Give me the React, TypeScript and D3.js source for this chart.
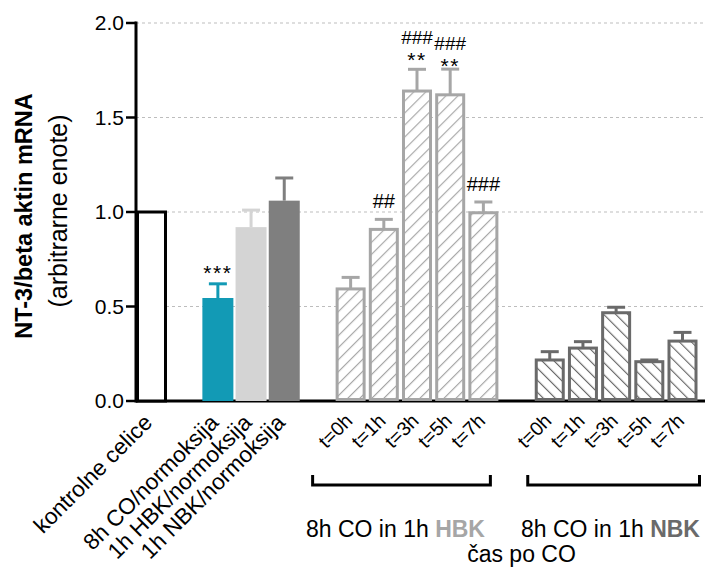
import * as d3 from "d3";

const controlLabels = ["kontrolne celice", "8h CO/normoksija", "1h HBK/normoksija", "1h NBK/normoksija"];
const controlValues = [1.0, 0.545, 0.92, 1.06];
const controlErrors = [0, 0.075, 0.09, 0.12];
const controlMarks = [[], ["***"], [], []];

const timeLabels = ["t=0h", "t=1h", "t=3h", "t=5h", "t=7h"];
const hbkValues = [0.593, 0.908, 1.64, 1.62, 0.996];
const hbkErrors = [0.061, 0.053, 0.115, 0.136, 0.057];
const hbkMarks = [[], ["##"], ["**", "###"], ["**", "###"], ["###"]];
const nbkValues = [0.217, 0.28, 0.467, 0.208, 0.317];
const nbkErrors = [0.044, 0.034, 0.029, 0.009, 0.046];

const yTicks = [0, 0.5, 1.0, 1.5, 2.0];

const FONT = "'Liberation Sans', Arial, Helvetica, sans-serif";
const TEAL = "#129ab5";
const LIGHT = "#d4d4d4";
const DARK = "#7f7f7f";
const HBK = "#a6a6a6";
const NBK = "#6a6a6a";

export default function App() {
  const width = 707;
  const height = 567;
  const x = d3.scaleLinear().domain([0, 16]).range([151.5, 682.5]);
  const y = d3.scaleLinear().domain([0, 2]).range([401, 23]);
  const axisX = 136;
  const right = 705;
  const barW = 31;
  const capW = 18;

  const controlSlots = [0, 2, 3, 4];
  const controlFill = ["#fff", TEAL, LIGHT, DARK];
  const hbkSlots = timeLabels.map((_, i) => 6 + i);
  const nbkSlots = timeLabels.map((_, i) => 12 + i);

  const errorBar = (cx: number, v: number, e: number, color: string, key: string) =>
    e > 0 ? (
      <g key={key} stroke={color} strokeWidth={3}>
        <line x1={cx} x2={cx} y1={y(v)} y2={y(v + e)} />
        <line x1={cx - capW / 2} x2={cx + capW / 2} y1={y(v + e)} y2={y(v + e)} />
      </g>
    ) : null;

  return (
    <svg width={width} height={height} style={{ position: "absolute", left: 0, top: 0, fontFamily: FONT }}>
      <defs>
        <pattern id="hatchHBK" patternUnits="userSpaceOnUse" width={8.5} height={8.5} patternTransform="rotate(45)">
          <rect width={8.5} height={8.5} fill="#fff" />
          <line x1={0} y1={0} x2={0} y2={8.5} stroke={HBK} strokeWidth={2.3} />
        </pattern>
        <pattern id="hatchNBK" patternUnits="userSpaceOnUse" width={8.5} height={8.5} patternTransform="rotate(-45)">
          <rect width={8.5} height={8.5} fill="#fff" />
          <line x1={0} y1={0} x2={0} y2={8.5} stroke={NBK} strokeWidth={2.3} />
        </pattern>
      </defs>

      {/* gridlines */}
      {yTicks.slice(1).map((t) => (
        <line key={t} x1={axisX} x2={right} y1={y(t)} y2={y(t)} stroke="#bdbdbd" strokeWidth={1} strokeDasharray="3,3" />
      ))}

      {/* x baseline */}
      <line x1={axisX} x2={right} y1={y(0)} y2={y(0)} stroke="#000" strokeWidth={3} />

      {/* control bars */}
      {controlValues.map((v, i) => {
        const cx = x(controlSlots[i]);
        return i === 0 ? (
          <rect key={i} x={cx - 14} y={y(v)} width={28} height={y(0) - y(v)} fill="#fff" stroke="#000" strokeWidth={3} />
        ) : (
          <rect key={i} x={cx - barW / 2} y={y(v)} width={barW} height={y(0) - y(v)} fill={controlFill[i]} />
        );
      })}
      {controlValues.map((v, i) => errorBar(x(controlSlots[i]), v, controlErrors[i], controlFill[i], `ce${i}`))}

      {/* HBK hatched bars */}
      {hbkValues.map((v, i) => {
        const cx = x(hbkSlots[i]);
        return (
          <rect key={`h${i}`} x={cx - 13.5} y={y(v)} width={27} height={y(0) - y(v) - 1.5} fill="url(#hatchHBK)" stroke={HBK} strokeWidth={3} />
        );
      })}
      {hbkValues.map((v, i) => errorBar(x(hbkSlots[i]), v, hbkErrors[i], HBK, `he${i}`))}

      {/* NBK hatched bars */}
      {nbkValues.map((v, i) => {
        const cx = x(nbkSlots[i]);
        return (
          <rect key={`n${i}`} x={cx - 13.5} y={y(v)} width={27} height={y(0) - y(v) - 1.5} fill="url(#hatchNBK)" stroke={NBK} strokeWidth={3} />
        );
      })}
      {nbkValues.map((v, i) => errorBar(x(nbkSlots[i]), v, nbkErrors[i], NBK, `ne${i}`))}

      {/* significance marks */}
      {controlMarks.map((m, i) =>
        m.map((s) => (
          <text key={`cm${i}`} x={x(controlSlots[i])} y={y(controlValues[i] + controlErrors[i]) - 4} textAnchor="middle" fontSize={21} letterSpacing={1.5}>
            {s}
          </text>
        ))
      )}
      {hbkMarks.map((m, i) => {
        const cx = x(hbkSlots[i]);
        const top = y(hbkValues[i] + hbkErrors[i]);
        // stagger stacked labels when the neighbour is stacked too
        const shift = m.length > 1 && i > 0 && hbkMarks[i - 1].length > 1 ? 6 : 0;
        return m.map((s, j) => {
          const isStar = s.startsWith("*");
          const yy = m.length === 1 ? top - 11 : (isStar ? top - 2 : top - 25) + shift;
          return (
            <text key={`hm${i}${j}`} x={cx} y={yy} textAnchor="middle" fontSize={isStar ? 21 : m.length > 1 ? 19 : 20} letterSpacing={isStar ? 1.5 : 0}>
              {s}
            </text>
          );
        });
      })}

      {/* y axis */}
      <line x1={axisX} x2={axisX} y1={y(2) - 1.5} y2={y(0) + 1.5} stroke="#000" strokeWidth={3} />
      {yTicks.map((t) => (
        <g key={`yt${t}`}>
          <line x1={axisX - 10} x2={axisX} y1={y(t)} y2={y(t)} stroke="#000" strokeWidth={2.5} />
          <text x={axisX - 12} y={y(t) + 7} textAnchor="end" fontSize={21}>
            {t.toFixed(1)}
          </text>
        </g>
      ))}

      {/* y axis title */}
      <text transform={`translate(32, ${216}) rotate(-90)`} textAnchor="middle" fontSize={23.5} fontWeight="bold">
        NT-3/beta aktin mRNA
      </text>
      <text transform={`translate(67, ${211}) rotate(-90)`} textAnchor="middle" fontSize={25}>
        (arbitrarne enote)
      </text>

      {/* category labels */}
      {controlLabels.map((l, i) => (
        <text key={`cl${i}`} transform={`translate(${x(controlSlots[i]) + 2}, 424) rotate(-45)`} textAnchor="end" fontSize={22.5}>
          {l}
        </text>
      ))}
      {[hbkSlots, nbkSlots].map((slots, g) =>
        slots.map((s, i) => (
          <text key={`tl${g}${i}`} transform={`translate(${x(s) + 3}, 422) rotate(-45)`} textAnchor="end" fontSize={19.5}>
            {timeLabels[i]}
          </text>
        ))
      )}

      {/* group brackets */}
      {[
        [x(hbkSlots[0]) - 38, x(hbkSlots[4]) + 7],
        [x(nbkSlots[0]) - 22, x(nbkSlots[4]) + 17],
      ].map(([a, b], g) => (
        <path key={`br${g}`} d={`M${a},475 V485 H${b} V475`} fill="none" stroke="#000" strokeWidth={3} />
      ))}

      <text x={395.5} y={537} textAnchor="middle" fontSize={23}>
        8h CO in 1h <tspan fill={HBK} fontWeight="bold">HBK</tspan>
      </text>
      <text x={610.5} y={537} textAnchor="middle" fontSize={23}>
        8h CO in 1h <tspan fill={NBK} fontWeight="bold">NBK</tspan>
      </text>
      <text x={521.5} y={562} textAnchor="middle" fontSize={23}>
        čas po CO
      </text>
    </svg>
  );
}
